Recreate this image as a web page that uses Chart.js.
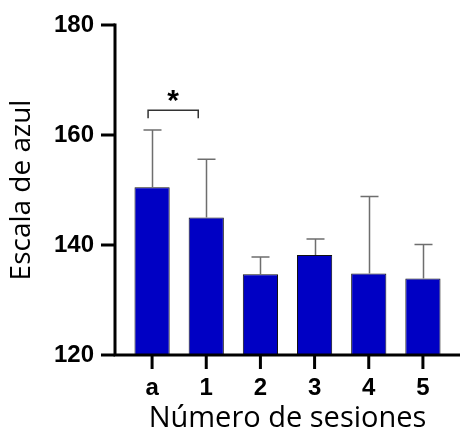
<!DOCTYPE html>
<html>
<head>
<meta charset="utf-8">
<script src="https://cdn.jsdelivr.net/npm/chart.js@4"></script>
<style>
  html, body { margin: 0; padding: 0; background: #fff; }
  #wrap { width: 460px; height: 444px; }
</style>
</head>
<body>
<div id="wrap"><canvas id="chart" width="460" height="444"></canvas></div>
<script>
// datos
const sesiones = ['a', '1', '2', '3', '4', '5'];
const medias = [150.5, 145.0, 134.7, 138.2, 134.8, 133.9];
const desv = [10.4, 10.6, 3.1, 2.9, 14.0, 6.2];
const yTicks = [120, 140, 160, 180];
// corchete de significancia entre 'a' y '1'
const corchete = { desde: 0, hasta: 1, valor: 164.5, texto: '*' };

const AXIS_X = 115;   // posición de la línea del eje Y
const AXIS_W = 3;

// ejes, marcas, barras de error y corchete
const extrasPlugin = {
    id: 'extras',
    afterDatasetsDraw(chart) {
        const ctx = chart.ctx;
        const x = chart.scales.x;
        const y = chart.scales.y;
        ctx.save();

        // barras de error (solo hacia arriba)
        ctx.strokeStyle = '#6e6e6e';
        ctx.lineWidth = 1.5;
        medias.forEach((m, i) => {
            const cx = Math.round(x.getPixelForValue(i)) + 0.5;
            const y0 = y.getPixelForValue(m);
            const y1 = y.getPixelForValue(m + desv[i]);
            ctx.beginPath();
            ctx.moveTo(cx, y0);
            ctx.lineTo(cx, y1);
            ctx.moveTo(cx - 9, y1);
            ctx.lineTo(cx + 9, y1);
            ctx.stroke();
        });

        // ejes
        ctx.strokeStyle = '#000';
        ctx.lineWidth = AXIS_W;
        ctx.lineCap = 'butt';
        const yb = y.getPixelForValue(120);
        ctx.beginPath();
        ctx.moveTo(AXIS_X, y.getPixelForValue(180) - 1.5);
        ctx.lineTo(AXIS_X, yb + 1.5);
        ctx.moveTo(AXIS_X - 1.5, yb);
        ctx.lineTo(chart.width, yb);
        ctx.stroke();

        // marcas del eje Y
        yTicks.forEach(v => {
            const py = y.getPixelForValue(v);
            ctx.beginPath();
            ctx.moveTo(AXIS_X - 14, py);
            ctx.lineTo(AXIS_X, py);
            ctx.stroke();
        });
        // marcas del eje X
        sesiones.forEach((s, i) => {
            const px = x.getPixelForValue(i);
            ctx.beginPath();
            ctx.moveTo(px, yb);
            ctx.lineTo(px, yb + 14);
            ctx.stroke();
        });

        // corchete
        const xa = x.getPixelForValue(corchete.desde) - 4;
        const xb = x.getPixelForValue(corchete.hasta) - 8;
        const yc = y.getPixelForValue(corchete.valor);
        ctx.strokeStyle = '#333';
        ctx.lineWidth = 1.5;
        ctx.beginPath();
        ctx.moveTo(xa, yc + 8);
        ctx.lineTo(xa, yc);
        ctx.lineTo(xb, yc);
        ctx.lineTo(xb, yc + 8);
        ctx.stroke();
        ctx.fillStyle = '#000';
        ctx.font = 'bold 30px "Liberation Sans", Arial, sans-serif';
        ctx.textAlign = 'center';
        ctx.textBaseline = 'alphabetic';
        ctx.fillText(corchete.texto, (xa + xb) / 2, yc);

        ctx.restore();
    }
};

new Chart(document.getElementById('chart'), {
    type: 'bar',
    data: {
        labels: sesiones,
        datasets: [{
            data: medias,
            backgroundColor: '#0000c4',
            borderColor: '#111',
            borderWidth: 1,
            borderSkipped: false,
            categoryPercentage: 1,
            barPercentage: 0.65
        }]
    },
    options: {
        responsive: false,
        animation: false,
        layout: { padding: { top: 25, right: 10, left: 0, bottom: 0 } },
        plugins: {
            legend: { display: false },
            tooltip: { enabled: false }
        },
        scales: {
            x: {
                offset: true,
                afterFit(scale) {
                    scale.height = 89;
                    scale.paddingLeft = 0;
                    scale.paddingRight = 0;
                },
                grid: { display: false, drawTicks: false },
                border: { display: false },
                ticks: {
                    color: '#000',
                    padding: 19,
                    font: { family: '"Liberation Sans", Arial, sans-serif', size: 24, weight: 'bold' }
                },
                title: {
                    display: true,
                    text: 'Número de sesiones',
                    color: '#000',
                    padding: { top: 0, bottom: 8 },
                    font: { family: '"Open Sans", sans-serif', size: 29 }
                }
            },
            y: {
                min: 120,
                max: 180,
                afterBuildTicks(scale) {
                    scale.ticks = yTicks.map(v => ({ value: v }));
                },
                afterFit(scale) {
                    scale.width = 125;
                    scale.paddingTop = 0;
                    scale.paddingBottom = 0;
                },
                grid: { display: false, drawTicks: false },
                border: { display: false },
                ticks: {
                    color: '#000',
                    padding: 31,
                    font: { family: '"Liberation Sans", Arial, sans-serif', size: 24, weight: 'bold' }
                },
                title: {
                    display: true,
                    text: 'Escala de azul',
                    color: '#000',
                    padding: { top: 5, bottom: 0 },
                    font: { family: '"Open Sans", sans-serif', size: 28 }
                }
            }
        }
    },
    plugins: [extrasPlugin]
});
</script>
</body>
</html>
